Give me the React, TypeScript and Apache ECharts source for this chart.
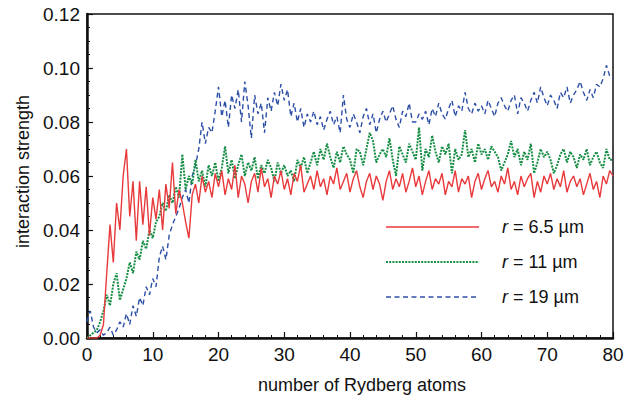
import React, { useEffect, useRef } from "react";
import * as echarts from "echarts";

const X_STEP = 0.5;

const X_TICKS = [0, 10, 20, 30, 40, 50, 60, 70, 80];
const Y_TICKS = [0, 0.02, 0.04, 0.06, 0.08, 0.1, 0.12];

const SERIES_NAMES = ["r = 6.5 µm", "r = 11 µm", "r = 19 µm"];

// r = 6.5 µm, sampled every 0.5 atoms from 0 to 80
const red = [
  0.0, 0.0, 0.0, 0.0, 0.001, 0.005, 0.024, 0.042, 0.028, 0.05,
  0.04, 0.06, 0.07, 0.045, 0.058, 0.036, 0.058, 0.042, 0.056, 0.038,
  0.052, 0.044, 0.055, 0.04, 0.057, 0.048, 0.065, 0.046, 0.055, 0.05,
  0.043, 0.037, 0.053, 0.057, 0.05, 0.06, 0.054, 0.058, 0.052, 0.061,
  0.056, 0.062, 0.053, 0.059, 0.055, 0.064, 0.052, 0.06, 0.057, 0.05,
  0.058, 0.061, 0.054, 0.063, 0.056, 0.059, 0.052, 0.06, 0.057, 0.062,
  0.055, 0.059, 0.053, 0.061, 0.058, 0.064, 0.054, 0.057, 0.06, 0.055,
  0.062, 0.056, 0.059, 0.053, 0.06, 0.057, 0.063, 0.055, 0.058, 0.061,
  0.054, 0.059, 0.062, 0.056, 0.052, 0.058, 0.061, 0.055, 0.06, 0.057,
  0.051, 0.058, 0.062, 0.055, 0.059, 0.056, 0.061, 0.054, 0.058, 0.063,
  0.056, 0.06, 0.053, 0.058, 0.062, 0.055, 0.059, 0.057, 0.061, 0.053,
  0.058, 0.056, 0.062, 0.054, 0.059, 0.057, 0.06, 0.052, 0.058, 0.061,
  0.055, 0.059, 0.062, 0.056, 0.058, 0.054, 0.06, 0.057, 0.063, 0.055,
  0.058, 0.053, 0.06, 0.056, 0.059, 0.061, 0.052, 0.058, 0.054, 0.06,
  0.057, 0.061, 0.055, 0.059, 0.056, 0.062, 0.054, 0.058, 0.06, 0.056,
  0.059, 0.053, 0.057, 0.061, 0.055, 0.058, 0.052, 0.06, 0.057, 0.062,
  0.06,
];

// r = 11 µm
const green = [
  0.0, 0.001, 0.002, 0.003, 0.006, 0.01, 0.016, 0.012, 0.02, 0.024,
  0.014, 0.018, 0.022, 0.028, 0.024, 0.032, 0.029, 0.036, 0.033, 0.04,
  0.037, 0.043, 0.045, 0.05, 0.047, 0.053, 0.05, 0.056, 0.052, 0.068,
  0.055, 0.06, 0.057, 0.066, 0.058, 0.062, 0.056, 0.064, 0.06, 0.065,
  0.058, 0.063, 0.071, 0.061, 0.066, 0.059, 0.064, 0.068, 0.06, 0.065,
  0.062, 0.067, 0.059, 0.064, 0.061, 0.066, 0.063, 0.058, 0.065, 0.061,
  0.064, 0.06, 0.062, 0.058, 0.066, 0.063, 0.067, 0.061, 0.065, 0.069,
  0.064, 0.07, 0.066, 0.072, 0.067, 0.063, 0.069, 0.065, 0.071, 0.068,
  0.066, 0.061, 0.07, 0.069, 0.064, 0.07, 0.076, 0.073, 0.065, 0.068,
  0.07, 0.067, 0.074, 0.066, 0.06, 0.071, 0.068, 0.065, 0.072, 0.069,
  0.066, 0.078, 0.062, 0.07, 0.067, 0.075, 0.069, 0.065, 0.071, 0.068,
  0.072, 0.061, 0.07, 0.066, 0.068, 0.077, 0.067, 0.07, 0.065, 0.072,
  0.068, 0.07, 0.066, 0.071, 0.069, 0.067, 0.062, 0.065, 0.068, 0.073,
  0.067, 0.07, 0.064, 0.069, 0.066, 0.072, 0.061, 0.065, 0.07, 0.067,
  0.069, 0.066, 0.061, 0.064, 0.068, 0.07, 0.065, 0.069, 0.067, 0.063,
  0.068, 0.066, 0.07, 0.064, 0.067, 0.069, 0.065, 0.063, 0.07, 0.066,
  0.066,
];

// r = 19 µm
const blue = [
  0.006, 0.01, 0.004, 0.002, 0.003, 0.001, 0.002, 0.004, 0.001, 0.003,
  0.006, 0.004, 0.009, 0.005, 0.012, 0.008, 0.015, 0.012, 0.019, 0.016,
  0.022, 0.019, 0.03, 0.034, 0.029, 0.038, 0.042, 0.045, 0.048, 0.052,
  0.055, 0.05, 0.06, 0.064, 0.07, 0.08, 0.072, 0.078, 0.076, 0.084,
  0.093, 0.082, 0.088, 0.078, 0.09, 0.085, 0.092, 0.08, 0.095, 0.086,
  0.074, 0.09, 0.083, 0.087, 0.076, 0.089, 0.084, 0.091, 0.086, 0.094,
  0.088, 0.092, 0.082, 0.087, 0.08, 0.085, 0.078, 0.083, 0.08, 0.084,
  0.079, 0.082, 0.077, 0.081, 0.084, 0.079, 0.082, 0.076, 0.09, 0.081,
  0.078, 0.083, 0.08, 0.076, 0.082, 0.085, 0.079, 0.083, 0.076, 0.081,
  0.084, 0.08, 0.083, 0.086, 0.081, 0.078, 0.084, 0.082, 0.087, 0.08,
  0.08, 0.083, 0.081, 0.084, 0.079, 0.085, 0.082, 0.087, 0.083, 0.081,
  0.085, 0.088, 0.082, 0.086, 0.084, 0.091, 0.085, 0.083, 0.087, 0.084,
  0.086, 0.083, 0.088, 0.085, 0.082, 0.087, 0.089, 0.086, 0.084, 0.088,
  0.09, 0.083, 0.089, 0.087, 0.084, 0.088, 0.091, 0.087, 0.093, 0.089,
  0.086, 0.09, 0.088, 0.085, 0.091, 0.089, 0.093, 0.087, 0.09, 0.092,
  0.095, 0.091, 0.088, 0.092, 0.089, 0.094, 0.093, 0.096, 0.101, 0.097,
  0.096,
];

const COLORS = ["#e8393b", "#168d44", "#2c4fa6"];
const FONT = "'Liberation Sans', Arial, Helvetica, sans-serif";

const toPairs = (arr: number[]) => arr.map((v, i) => [i * X_STEP, v]);

export default function App() {
  const ref = useRef<HTMLDivElement>(null);

  useEffect(() => {
    if (!ref.current) return;
    const chart = echarts.init(ref.current, undefined, { renderer: "svg" });

    const legendY = [227, 262, 297];
    const dashes: (number[] | null)[] = [null, [2, 1.2], [5, 3.5]];
    const widths = [1.4, 2, 1.4];
    const rich = {
      i: { fontStyle: "italic", fontSize: 18, fontFamily: FONT, fill: "#111" },
      n: { fontSize: 18, fontFamily: FONT, fill: "#111" },
    };

    const graphic: any[] = [];
    SERIES_NAMES.forEach((name, k) => {
      graphic.push({
        type: "line",
        shape: { x1: 386, y1: legendY[k], x2: 479, y2: legendY[k] },
        style: {
          stroke: COLORS[k],
          lineWidth: widths[k],
          lineDash: dashes[k] || undefined,
        },
      });
      const rest = name.slice(1);
      graphic.push({
        type: "text",
        x: 502,
        y: legendY[k],
        style: {
          text: `{i|r}{n|${rest}}`,
          rich,
          verticalAlign: "middle",
          fill: "#111",
        },
      });
    });

    const seriesData = [red, green, blue];
    const series: any[] = [2, 1, 0].map((k) => ({
      name: SERIES_NAMES[k],
      type: "line",
      data: toPairs(seriesData[k]),
      symbol: "none",
      showSymbol: false,
      lineStyle: {
        color: COLORS[k],
        width: widths[k],
        type: dashes[k] || "solid",
      },
      z: 3 + (2 - k),
    }));

    const axisLabelStyle = { color: "#111", fontSize: 19, fontFamily: FONT };

    chart.setOption({
      animation: false,
      backgroundColor: "#fff",
      grid: {
        left: 87,
        top: 14,
        width: 526,
        height: 324,
        show: true,
        borderColor: "#111",
        borderWidth: 1.5,
        backgroundColor: "transparent",
      },
      xAxis: {
        type: "value",
        min: X_TICKS[0],
        max: X_TICKS[X_TICKS.length - 1],
        interval: X_TICKS[1] - X_TICKS[0],
        name: "number of Rydberg atoms",
        nameLocation: "middle",
        nameGap: 38,
        nameTextStyle: {
          color: "#111",
          fontSize: 18,
          fontFamily: FONT,
          padding: [0, 0, 0, 24],
        },
        axisLine: { show: true, lineStyle: { color: "#111", width: 2.5 } },
        axisTick: { show: true, inside: true, length: 6, lineStyle: { color: "#111", width: 1.2 } },
        minorTick: { show: true, splitNumber: 5, length: 3, lineStyle: { color: "#111", width: 1 } },
        splitLine: { show: false },
        axisLabel: { ...axisLabelStyle, margin: 7 },
      },
      yAxis: {
        type: "value",
        min: Y_TICKS[0],
        max: Y_TICKS[Y_TICKS.length - 1],
        interval: 0.02,
        name: "interaction strength",
        nameLocation: "middle",
        nameGap: 51,
        nameRotate: 90,
        nameTextStyle: {
          color: "#111",
          fontSize: 18,
          fontFamily: FONT,
          padding: [0, 0, 0, 9],
        },
        axisLine: { show: true, lineStyle: { color: "#111", width: 2.5 } },
        axisTick: { show: true, inside: true, length: 6, lineStyle: { color: "#111", width: 1.2 } },
        minorTick: { show: true, splitNumber: 4, length: 3, lineStyle: { color: "#111", width: 1 } },
        splitLine: { show: false },
        axisLabel: {
          ...axisLabelStyle,
          margin: 7,
          formatter: (v: number) => v.toFixed(2),
        },
      },
      series,
      graphic,
    });

    return () => chart.dispose();
  }, []);

  return (
    <div
      ref={ref}
      style={{ position: "fixed", left: 0, top: 0, width: 641, height: 400, background: "#fff" }}
    />
  );
}
